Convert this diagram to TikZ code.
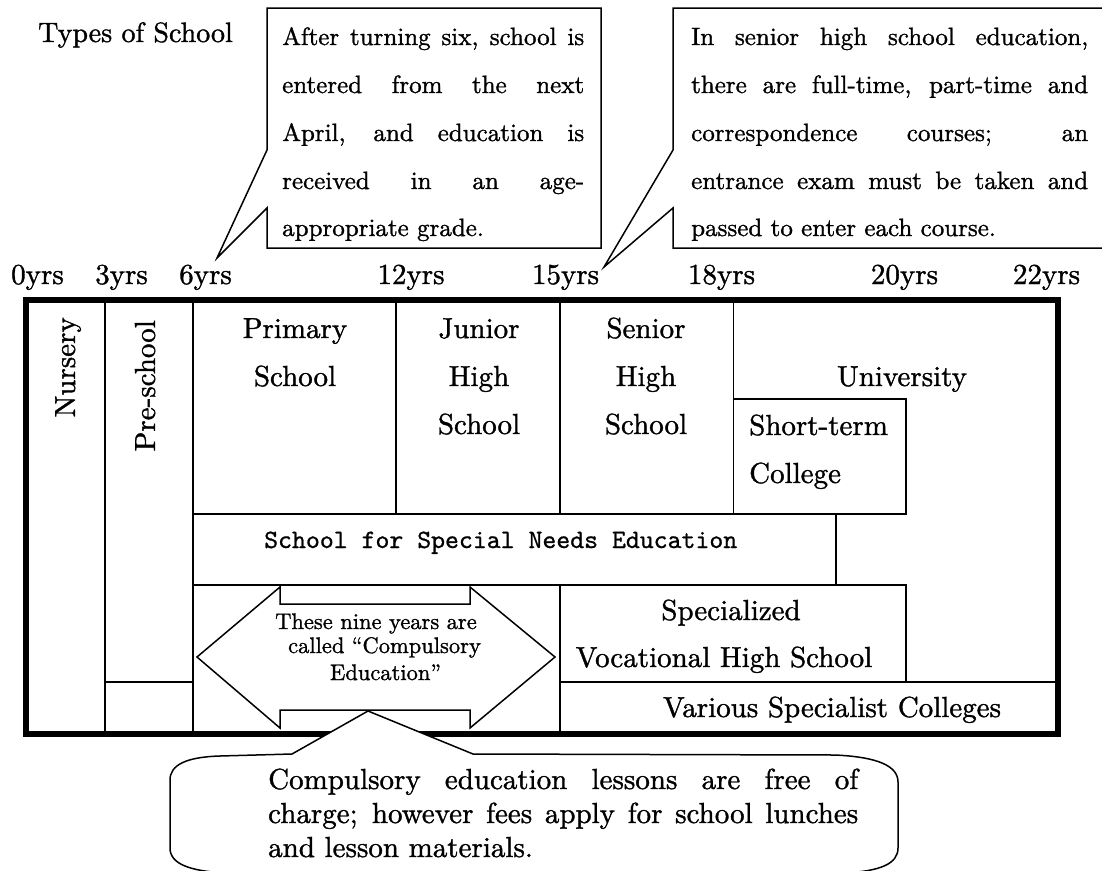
\documentclass[tikz,border=0pt]{standalone}
\font\fTitle="[lmroman10-regular.otf]:embolden=1.2" at 28pt
\font\fBody="[lmroman10-regular.otf]:embolden=1.2" at 29pt
\font\fCall="[lmroman10-regular.otf]:embolden=1.2" at 25pt
\font\fSmall="[lmroman10-regular.otf]:embolden=1.2" at 22.5pt
\font\fMono="[lmmono10-regular.otf]:embolden=0.8" at 26.5pt
\newcommand\jline[2]{\makebox[#1pt][s]{#2}}
\tikzset{
  gridline/.style={line width=1.3pt, line cap=rect},
  frameline/.style={line width=5.5pt, line join=miter},
  calloutshape/.style={line width=1.5pt, fill=white, line join=miter},
  arrowshape/.style={line width=1.5pt, fill=white, line join=miter},
  bodytext/.style={inner sep=0pt, font=\fBody},
  yeartext/.style={inner sep=0pt, font=\fBody, anchor=base},
  calltext/.style={inner sep=0pt, font=\fCall, anchor=base west},
  bottomtext/.style={inner sep=0pt, font=\fBody, anchor=base west},
  smalltext/.style={inner sep=0pt, font=\fSmall, anchor=base},
  monotext/.style={inner sep=0pt, font=\fMono, anchor=base west}
}
\begin{document}
\begin{tikzpicture}[x=1pt,y=-1pt]
\useasboundingbox (0,0) rectangle (1102,870);
\clip (0,0) rectangle (1102,870);

% title
\node[inner sep=0pt, font=\fTitle, anchor=base west] (types) at (38,42) {Types of School};

% callouts at top
\draw[calloutshape] (267,8) -- (601,8) -- (601,248) -- (267,248) -- (267,208) -- (217,258) -- (267,150) -- cycle;
\node[calltext] (c1a) at (282,45) {\jline{302}{After turning six, school is}};
\node[calltext] (c1b) at (282,93) {\jline{302}{entered from the next}};
\node[calltext] (c1c) at (282,141) {\jline{302}{April, and education is}};
\node[calltext] (c1d) at (282,189) {\jline{302}{received in an age-}};
\node[calltext] (c1e) at (282,236) {appropriate grade.};

\draw[calloutshape] (673,8) -- (1115,8) -- (1115,248) -- (673,248) -- (673,208) -- (604,267) -- (673,150) -- cycle;
\node[calltext] (c2a) at (691,45) {\jline{397}{In senior high school education,}};
\node[calltext] (c2b) at (691,93) {\jline{397}{there are full-time, part-time and}};
\node[calltext] (c2c) at (691,141) {\jline{397}{correspondence courses; an}};
\node[calltext] (c2d) at (691,189) {\jline{397}{entrance exam must be taken and}};
\node[calltext] (c2e) at (691,236) {passed to enter each course.};

% year labels
\node[yeartext] (y0) at (37.5,284) {0yrs};
\node[yeartext] (y3) at (121.5,284) {3yrs};
\node[yeartext] (y6) at (205.5,284) {6yrs};
\node[yeartext] (y12) at (411,284) {12yrs};
\node[yeartext] (y15) at (565.5,284) {15yrs};
\node[yeartext] (y18) at (721.5,284) {18yrs};
\node[yeartext] (y20) at (904.5,284) {20yrs};
\node[yeartext] (y22) at (1046.5,284) {22yrs};

% grid lines
\draw[gridline] (105,300) -- (105,734);
\draw[gridline] (193,300) -- (193,734);
\draw[gridline] (396,300) -- (396,514);
\draw[gridline] (560,300) -- (560,514);
\draw[gridline] (733.5,300) -- (733.5,514);
\draw[gridline] (733.5,399) -- (906,399) -- (906,514);
\draw[gridline] (193,514) -- (906,514);
\draw[gridline] (836,514) -- (836,585);
\draw[gridline] (193,585) -- (906,585) -- (906,682);
\draw[gridline] (560,585) -- (560,734);
\draw[gridline] (560,682) -- (1058,682);
\draw[gridline] (105,682) -- (193,682);

% frame
\draw[frameline] (26,300) rectangle (1058,734);

% cell texts
\node[bodytext, rotate=90, anchor=base east] (nursery) at (75,317) {Nursery};
\node[bodytext, rotate=90, anchor=base east] (preschool) at (155,320) {Pre-school};
\node[bodytext, anchor=base] (pri1) at (295,338) {Primary};
\node[bodytext, anchor=base] (pri2) at (295,386) {School};
\node[bodytext, anchor=base] (jun1) at (479,338) {Junior};
\node[bodytext, anchor=base] (jun2) at (479,386) {High};
\node[bodytext, anchor=base] (jun3) at (479,434) {School};
\node[bodytext, anchor=base] (sen1) at (646,338) {Senior};
\node[bodytext, anchor=base] (sen2) at (646,386) {High};
\node[bodytext, anchor=base] (sen3) at (646,434) {School};
\node[bodytext, anchor=base] (univ) at (902,386) {University};
\node[bodytext, anchor=base west] (short1) at (749,435) {Short-term};
\node[bodytext, anchor=base west] (short2) at (749,483) {College};
\node[monotext] (special) at (264,548) {School for Special Needs Education};
\node[bodytext, anchor=base] (voc1) at (731,620) {Specialized};
\node[bodytext, anchor=base] (voc2) at (724,667) {Vocational High School};
\node[bodytext, anchor=base] (various) at (832,717) {Various Specialist Colleges};

% double arrow
\draw[arrowshape] (197,657) -- (280,587) -- (280,604) -- (470,604) -- (470,587) -- (555,657)
  -- (470,728) -- (470,710) -- (280,710) -- (280,728) -- cycle;
\node[smalltext] (arr1) at (376,629) {These nine years are};
\node[smalltext] (arr2) at (384.5,653) {called “Compulsory};
\node[smalltext] (arr3) at (385.5,680) {Education”};

% bottom callout
\draw[calloutshape] (292,754) -- (368,711) -- (473,754) -- (835,755)
  .. controls (878,757) and (898,766) .. (898,782) -- (898,848)
  .. controls (898,864) and (880,871) .. (845,873) -- (225,873)
  .. controls (190,871) and (170,864) .. (170,848) -- (170,780)
  .. controls (170,765) and (186,757) .. (220,756) -- cycle;
\node[bottomtext] (b1) at (268,789) {\jline{590}{Compulsory education lessons are free of}};
\node[bottomtext] (b2) at (268,823) {\jline{590}{charge; however fees apply for school lunches}};
\node[bottomtext] (b3) at (268,857) {and lesson materials.};
\end{tikzpicture}
\end{document}
